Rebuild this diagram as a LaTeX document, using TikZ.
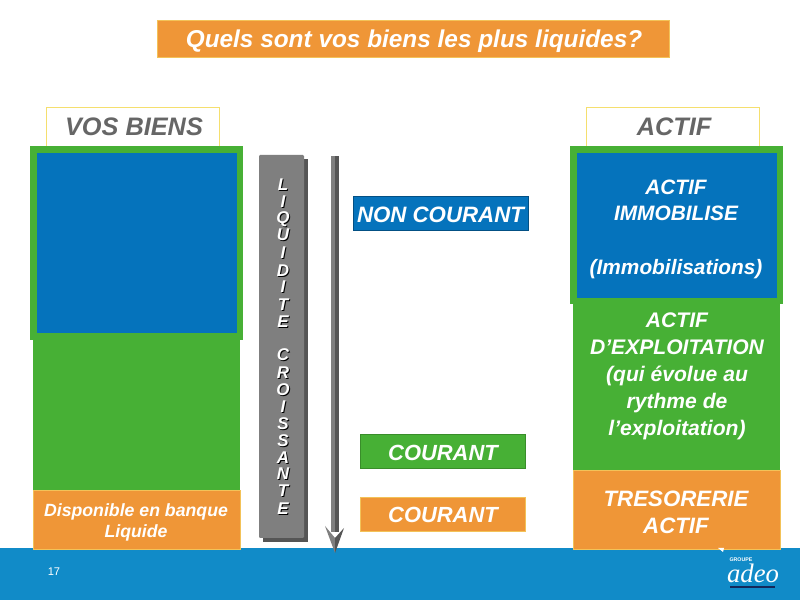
\documentclass[tikz,border=0pt]{standalone}
\usepackage{fontspec}
\setmainfont{Liberation Sans}
\newfontfamily\logofont{Liberation Serif}
\definecolor{cgreen}{HTML}{47B035}
\definecolor{cblue}{HTML}{0573BC}
\definecolor{corange}{HTML}{EF9637}
\definecolor{cyell}{HTML}{F5DF6E}
\definecolor{cband}{HTML}{118BC8}
\definecolor{cgrey}{HTML}{7F7F7F}
\definecolor{cdark}{HTML}{555555}
\definecolor{ctext}{HTML}{666666}
\definecolor{clogo}{HTML}{14285A}
\tikzset{
  x=0.03cm,y=-0.03cm,
  whitetxt/.style 2 args={text=white,font=\fontsize{#1}{#2}\selectfont\bfseries\itshape,align=center,inner sep=0pt},
  greytxt/.style={text=ctext,font=\fontsize{21.6}{22}\selectfont\bfseries\itshape,inner sep=0pt},
  headbox/.style={fill=white,draw=cyell,line width=0.75pt},
  orangebox/.style={fill=corange,draw=cyell!60!corange,line width=0.5pt},
  barletter/.style={font=\fontsize{14.5}{15}\selectfont\bfseries\itshape,inner sep=0pt},
}
\begin{document}
\begin{tikzpicture}
\useasboundingbox (0,0) rectangle (800,600);
\fill[white] (0,0) rectangle (800,600);
% band
\fill[cband] (0,548) rectangle (800,600);
\node[text=white,font=\fontsize{9.5}{10}\selectfont,inner sep=0pt] (pagenum) at (54,572) {17};
% title
\path[orangebox] (157,20) rectangle (669,57);
\node[whitetxt={20.8}{21}] (title) at (414,41) {Quels sont vos biens les plus liquides?};
% header boxes
\path[headbox] (46,107) rectangle (219,146);
\node[greytxt] (vos) at (134,127) {VOS BIENS};
\path[headbox] (586,107) rectangle (759,146);
\node[greytxt] (actif) at (674,127) {ACTIF};
% left column
\fill[cgreen] (33,330) rectangle (240,490);
\fill[cgreen] (30,146) rectangle (243,340);
\fill[cblue] (37,153) rectangle (237,333);
\path[orangebox] (33,490) rectangle (240,549);
\node[whitetxt={15.1}{18}] (dispo) at (136,522.5) {Disponible en banque\\Liquide};
% right column
\fill[cgreen] (573,296) rectangle (780,470);
\fill[cgreen] (570,146) rectangle (783,304);
\fill[cblue] (577,153) rectangle (777,298);
\path[orangebox] (573,470) rectangle (780,549);
\node[whitetxt={17.8}{22.8}] (immo) at (676,229) {ACTIF\\IMMOBILISE\\[0pt]\\(Immobilisations)};
\node[whitetxt={18}{23}] (expl) at (677,376) {ACTIF\\D’EXPLOITATION\\(qui évolue au\\rythme de\\l’exploitation)};
\node[whitetxt={19}{23}] (treso) at (676,512) {TRESORERIE\\ACTIF};
% liquidity bar
\fill[cdark] (263,159) rectangle (308,542);
\path[fill=cgrey,rounded corners=1pt] (259,155) rectangle (304,538);
\foreach \ch/\yy in {L/185,I/202,Q/219,U/235,I/253,D/271,I/287,T/305,E/322,C/355,R/373,O/390,I/407,S/424,S/441,A/458,N/474,T/491,E/509}{
  \node[barletter,text=black] at (284,\yy+1) {\ch};
  \node[barletter,text=white] at (283,\yy) {\ch};
}
% arrow
\fill[cdark] (335,156) rectangle (339,532);
\fill[cgrey] (331,156) rectangle (335,532);
\fill[cgrey] (325,526) -- (335,538) -- (335,553) -- cycle;
\fill[cdark] (344,528) -- (335,538) -- (335,553) -- cycle;
% labels
\path[fill=cblue,draw=cblue!70!black,line width=0.4pt] (353,196) rectangle (528,230);
\node[whitetxt={19}{20}] (nc) at (440.5,214.5) {NON COURANT};
\path[fill=cgreen,draw=cgreen!80!black,line width=0.4pt] (360,434) rectangle (525,468);
\node[whitetxt={18.7}{20}] (c1) at (443,453) {COURANT};
\path[orangebox] (360,497) rectangle (525,531);
\node[whitetxt={18.7}{20}] (c2) at (443,515) {COURANT};
% logo
\node[text=white,font=\fontsize{4.5}{5}\selectfont\bfseries,inner sep=0pt] (groupe) at (741,559.5) {GROUPE};
\node[text=white,font=\logofont\fontsize{22.8}{24}\selectfont\itshape,inner sep=0pt,anchor=base] (adeo) at (753,583) {adeo};
\draw[color=clogo,line width=1pt] (730,587) -- (775,587);
\fill[white] (718,548) -- (724,548) -- (723,552) -- cycle;
\end{tikzpicture}
\end{document}
